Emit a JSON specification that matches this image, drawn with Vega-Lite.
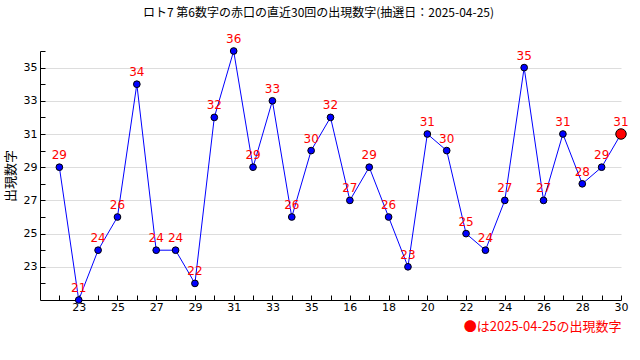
{
  "$schema": "https://vega.github.io/schema/vega-lite/v6.json",
  "autosize": "none",
  "width": 581,
  "height": 249,
  "padding": {"left": 40, "top": 51, "right": 19, "bottom": 60},
  "background": "white",
  "title": {
    "text": "ロト7 第6数字の赤口の直近30回の出現数字(抽選日：2025-04-25)",
    "font": "Noto Sans CJK JP",
    "fontSize": 12,
    "fontWeight": "normal",
    "color": "black",
    "anchor": "middle",
    "dx": -12,
    "offset": 13
  },
  "config": {
    "view": {"stroke": null},
    "axis": {"labelFont": "DejaVu Sans", "labelFontSize": 11, "labelColor": "black", "domainColor": "black", "tickColor": "black", "titleFont": "Noto Sans CJK JP", "titleFontWeight": "normal", "titleColor": "black"}
  },
  "data": {
    "values": [
      {"i": 1, "v": 29}, {"i": 2, "v": 21}, {"i": 3, "v": 24}, {"i": 4, "v": 26}, {"i": 5, "v": 34},
      {"i": 6, "v": 24}, {"i": 7, "v": 24}, {"i": 8, "v": 22}, {"i": 9, "v": 32}, {"i": 10, "v": 36},
      {"i": 11, "v": 29}, {"i": 12, "v": 33}, {"i": 13, "v": 26}, {"i": 14, "v": 30}, {"i": 15, "v": 32},
      {"i": 16, "v": 27}, {"i": 17, "v": 29}, {"i": 18, "v": 26}, {"i": 19, "v": 23}, {"i": 20, "v": 31},
      {"i": 21, "v": 30}, {"i": 22, "v": 25}, {"i": 23, "v": 24}, {"i": 24, "v": 27}, {"i": 25, "v": 35},
      {"i": 26, "v": 27}, {"i": 27, "v": 31}, {"i": 28, "v": 28}, {"i": 29, "v": 29}, {"i": 30, "v": 31}
    ]
  },
  "encoding": {
    "x": {
      "field": "i", "type": "quantitative",
      "scale": {"domain": [0, 30], "nice": false, "zero": false},
      "axis": {
        "values": [1,2,3,4,5,6,7,8,9,10,11,12,13,14,15,16,17,18,19,20,21,22,23,24,25,26,27,28,29,30],
        "labelExpr": "datum.value % 2 == 0 ? (datum.value <= 14 ? datum.value + 21 : datum.value) : ''",
        "grid": false,
        "tickSize": -5,
        "labelPadding": 6,
        "labelFlush": false,
        "labelOverlap": false,
        "title": "●は2025-04-25の出現数字",
        "titleAnchor": "end",
        "titleColor": "#ff0000",
        "titleFontSize": 13,
        "titlePadding": 8
      }
    },
    "y": {
      "field": "v", "type": "quantitative",
      "scale": {"domain": [21, 36], "nice": false, "zero": false},
      "axis": {
        "values": [22,23,24,25,26,27,28,29,30,31,32,33,34,35,36],
        "labelExpr": "datum.value % 2 == 1 ? datum.value : ''",
        "grid": true,
        "gridColor": {"condition": {"test": "datum.value % 2 == 1", "value": "#dddddd"}, "value": "rgba(0,0,0,0)"},
        "tickSize": -5,
        "labelPadding": 8,
        "labelOverlap": false,
        "title": "出現数字",
        "titleFontSize": 13,
        "titlePadding": 6
      }
    }
  },
  "layer": [
    {"mark": {"type": "line", "color": "#0000ff", "strokeWidth": 1}},
    {"mark": {"type": "point", "filled": true, "fill": "#0000ff", "stroke": "black", "strokeWidth": 1, "size": 45, "opacity": 1}},
    {"transform": [{"filter": "datum.i == 30"}], "mark": {"type": "point", "filled": true, "fill": "#ff0000", "stroke": "black", "strokeWidth": 1, "size": 110, "opacity": 1}},
    {"mark": {"type": "text", "color": "#ff0000", "font": "DejaVu Sans", "fontSize": 12, "dy": -12}, "encoding": {"text": {"field": "v", "type": "quantitative"}}}
  ]
}
